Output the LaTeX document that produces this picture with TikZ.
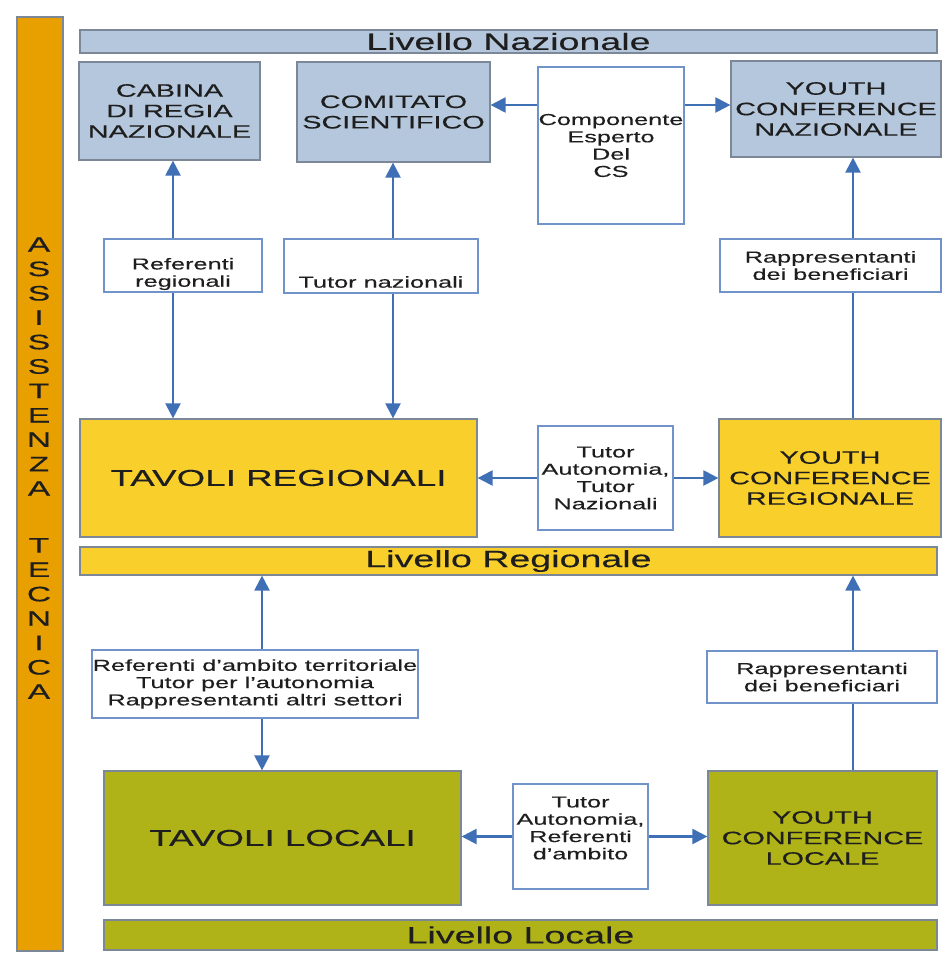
\documentclass[tikz,border=0pt]{standalone}
\usepackage{fontspec}
\setmainfont{Liberation Sans}[FakeStretch=1.6,FakeBold=0.3]
\usetikzlibrary{arrows.meta,backgrounds}
\definecolor{natfill}{HTML}{B4C7DC}
\definecolor{regfill}{HTML}{F9CF2B}
\definecolor{locfill}{HTML}{AFB318}
\definecolor{orangebar}{HTML}{E8A000}
\definecolor{arrowblue}{HTML}{3F6FB5}
\definecolor{lblborder}{HTML}{7093C9}
\definecolor{boxborder}{HTML}{7C8797}
\definecolor{txt}{HTML}{1E1E1E}
\tikzset{
  bx/.style={draw=boxborder, line width=1.2pt, inner sep=0pt, align=center, text=txt},
  natbox/.style={bx, fill=natfill, font=\fontsize{18}{20.5}\selectfont},
  regbox/.style={bx, fill=regfill, font=\fontsize{18}{20.5}\selectfont},
  locbox/.style={bx, fill=locfill, font=\fontsize{18}{20.5}\selectfont},
  bigtxt/.style={font=\fontsize{23}{26}\selectfont},
  lvlbar/.style={bx, font=\fontsize{23.5}{26}\selectfont},
  lblbox/.style={draw=lblborder, line width=1.2pt, fill=white, inner sep=0pt, align=center, text=txt, font=\fontsize{15.8}{17.3}\selectfont},
  lbltext/.style={inner sep=0pt, align=center, text=txt, font=\fontsize{15.8}{17.3}\selectfont},
  conn/.style={draw=arrowblue, line width=2.2pt, >={Triangle[width=15pt,length=15pt]}},
  bartxt/.style={inner sep=0pt, align=center, text=txt, font=\fontsize{21}{24.4}\selectfont}
}
\begin{document}
\begin{tikzpicture}[x=1pt,y=-1pt]
\useasboundingbox (0,0) rectangle (942,969);

% left bar
\node[bx, fill=orangebar, minimum width=46pt, minimum height=934pt] (asst) at (40,484) {};
\node[bartxt] (asstA) at (39,366.5) {A\\S\\S\\I\\S\\S\\T\\E\\N\\Z\\A};
\node[bartxt] (asstB) at (39,618.5) {T\\E\\C\\N\\I\\C\\A};

% national level
\node[lvlbar, fill=natfill, minimum width=857pt, minimum height=23pt] (livnaz) at (508.5,41.5) {Livello Nazionale};
\node[natbox, minimum width=181pt, minimum height=98pt] (cab) at (169.5,111) {CABINA\\DI REGIA\\NAZIONALE};
\node[natbox, minimum width=193pt, minimum height=100pt] (com) at (393.5,112) {COMITATO\\SCIENTIFICO};
\node[lblbox, minimum width=146pt, minimum height=157pt] (comp) at (611,145.5) {Componente\\Esperto\\Del\\CS};
\node[natbox, minimum width=210pt, minimum height=96pt] (ycn) at (836,109) {YOUTH\\CONFERENCE\\NAZIONALE};

% label boxes between national and regional
\node[lblbox, minimum width=158pt, minimum height=53pt] (refreg) at (183,265.5) {};
\node[lbltext] (refregT) at (183,274) {Referenti\\regionali};
\node[lblbox, minimum width=194pt, minimum height=54pt] (tutnaz) at (381,266) {};
\node[lbltext] (tutnazT) at (381,282) {Tutor nazionali};
\node[lblbox, minimum width=221pt, minimum height=53pt] (rapp1) at (830.5,265.5) {Rappresentanti\\dei beneficiari};

% regional level
\node[regbox, bigtxt, minimum width=397pt, minimum height=118pt] (tavreg) at (278.5,478) {TAVOLI REGIONALI};
\node[lblbox, minimum width=135pt, minimum height=104pt] (tar) at (605.5,478) {Tutor\\Autonomia,\\Tutor\\Nazionali};
\node[regbox, minimum width=222pt, minimum height=118pt] (ycr) at (830,478) {YOUTH\\CONFERENCE\\REGIONALE};
\node[lvlbar, fill=regfill, minimum width=857pt, minimum height=28pt] (livreg) at (508.5,561) {Livello Regionale};

% label boxes between regional and local
\node[lblbox, minimum width=326pt, minimum height=68pt] (refamb) at (255,684) {Referenti d'ambito territoriale\\Tutor per l'autonomia\\Rappresentanti altri settori};
\node[lblbox, minimum width=230pt, minimum height=52pt] (rapp2) at (822,677) {Rappresentanti\\dei beneficiari};

% local level
\node[locbox, bigtxt, minimum width=357pt, minimum height=134pt] (tavloc) at (282.5,838) {TAVOLI LOCALI};
\node[lblbox, minimum width=135pt, minimum height=105pt] (tal) at (580.5,836.5) {};
\node[lbltext] (talT) at (580.5,828) {Tutor\\Autonomia,\\Referenti\\d'ambito};
\node[locbox, minimum width=229pt, minimum height=134pt] (ycl) at (822.5,838) {YOUTH\\CONFERENCE\\LOCALE};
\node[lvlbar, fill=locfill, minimum width=833pt, minimum height=30pt] (livloc) at (520.5,935) {Livello Locale};

% reference coordinates for connector columns/rows
\coordinate (xA) at (173,0);
\coordinate (xB) at (393,0);
\coordinate (xC) at (853,0);
\coordinate (xD) at (262,0);
\coordinate (yN) at (0,105);

\begin{scope}[on background layer]
\fill[white] (0,0) rectangle (942,969);
\draw[conn,<->] (cab.south -| xA) -- (tavreg.north -| xA);
\draw[conn,<->] (com.south -| xB) -- (tavreg.north -| xB);
\draw[conn,->] (ycr.north -| xC) -- (ycn.south -| xC);
\draw[conn,->] (comp.west |- yN) -- (com.east |- yN);
\draw[conn,->] (comp.east |- yN) -- (ycn.west |- yN);
\draw[conn,->] (tar.west) -- (tavreg.east |- tar.west);
\draw[conn,->] (tar.east) -- (ycr.west |- tar.east);
\draw[conn,<->] (livreg.south -| xD) -- (tavloc.north -| xD);
\draw[conn,->] (ycl.north -| xC) -- (livreg.south -| xC);
\draw[conn,->] (tal.west) -- (tavloc.east |- tal.west);
\draw[conn,->] (tal.east) -- (ycl.west |- tal.east);
\end{scope}
\end{tikzpicture}
\end{document}
